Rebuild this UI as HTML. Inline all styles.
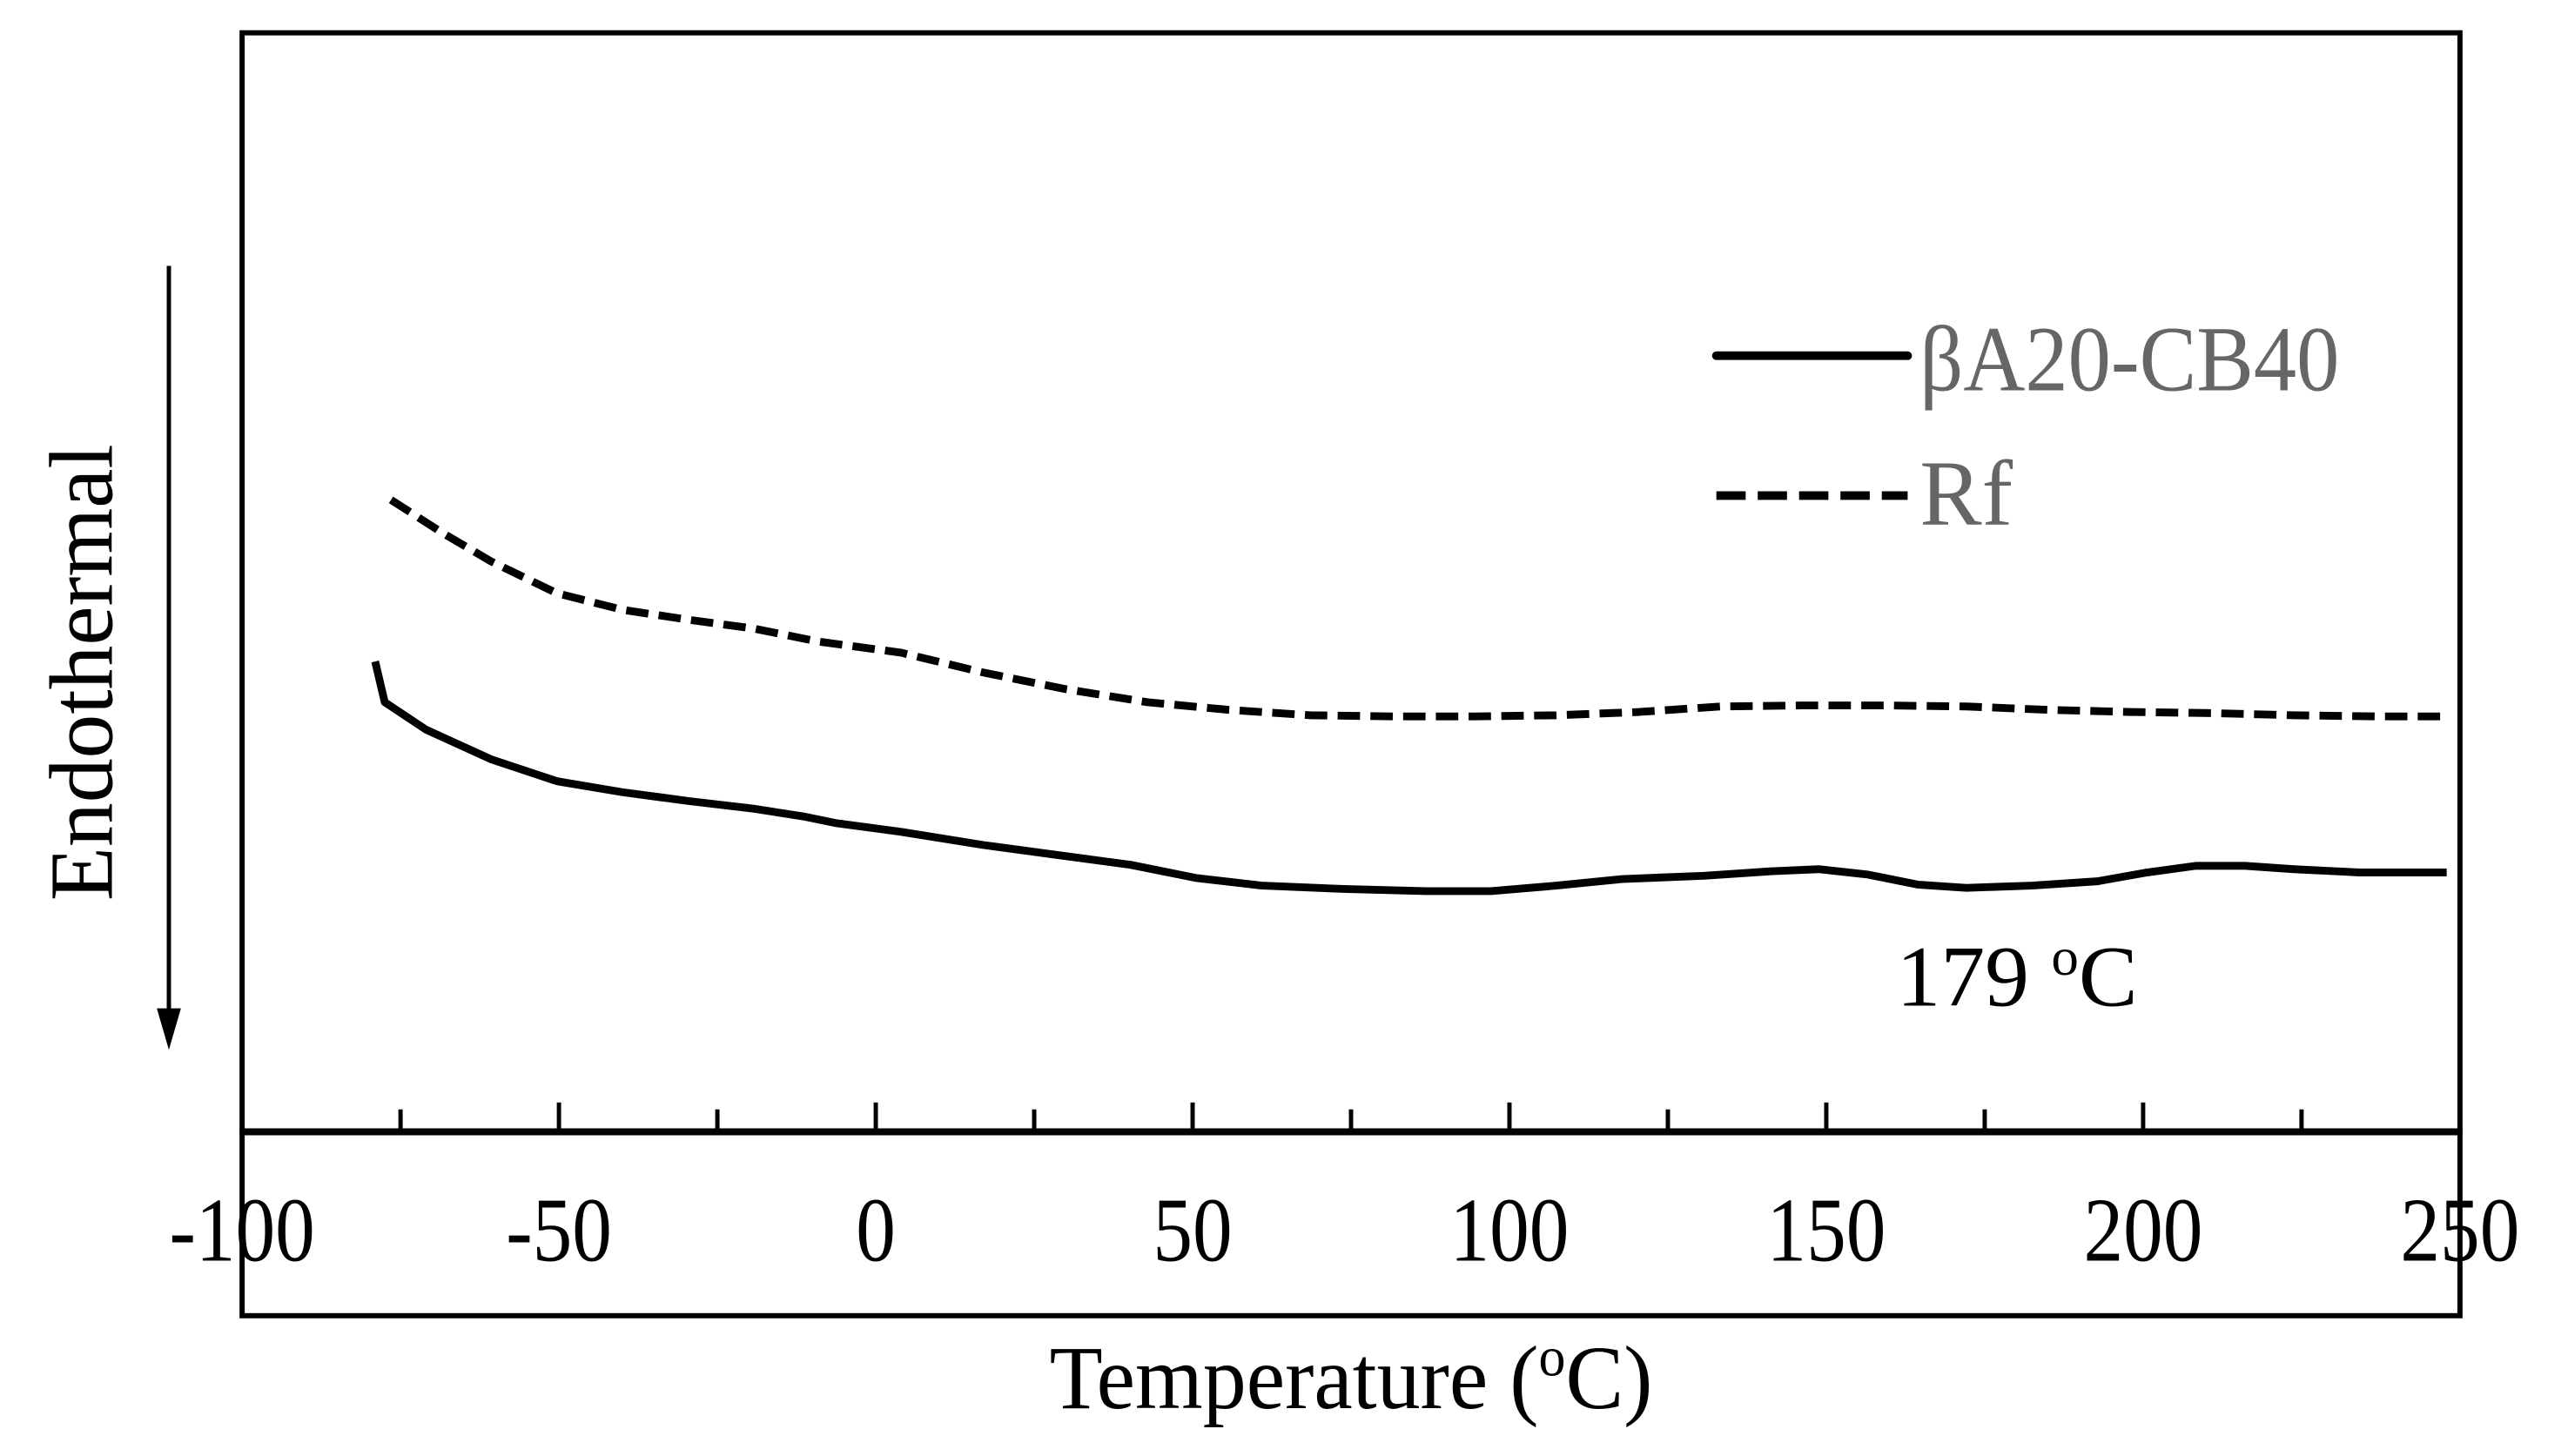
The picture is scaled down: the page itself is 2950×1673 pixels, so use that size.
<!DOCTYPE html>
<html><head><meta charset="utf-8"><style>
html,body{margin:0;padding:0;background:#fff;}
svg{display:block;}
text{font-family:"Liberation Serif",serif;}
</style></head><body>
<svg id="chart" width="2950" height="1673" viewBox="0 0 2950 1673" xmlns="http://www.w3.org/2000/svg">
<g transform="scale(0.9898,0.992)">
<rect x="281" y="38" width="2574" height="1486" fill="none" stroke="#000" stroke-width="6"/>
<line x1="278" y1="1311" x2="2858" y2="1311" stroke="#000" stroke-width="8"/>
<g id="ticks"></g>
<g id="series"></g>
<text x="1568" y="1631" font-size="105" text-anchor="middle" textLength="700" lengthAdjust="spacingAndGlyphs">Temperature (<tspan font-size="65" dy="-38">o</tspan><tspan dy="38">C)</tspan></text>
<text transform="translate(130,779) rotate(-90)" font-size="105" text-anchor="middle" textLength="529" lengthAdjust="spacingAndGlyphs">Endothermal</text>
<g>
<line x1="196" y1="308" x2="196" y2="1180" stroke="#000" stroke-width="5"/>
<polygon points="182,1168 210,1168 196,1216" fill="#000"/>
</g>
<g>
<line x1="1992" y1="412" x2="2214" y2="412" stroke="#000" stroke-width="10" stroke-linecap="round"/>
<text x="2228" y="452" font-size="108" fill="#666" textLength="487" lengthAdjust="spacingAndGlyphs">βA20-CB40</text>
<line x1="1992" y1="574" x2="2214" y2="574" stroke="#000" stroke-width="10" stroke-dasharray="34,14"/>
<text x="2228" y="608" font-size="108" fill="#666">Rf</text>
</g>
<text x="2201" y="1165" font-size="100" textLength="280" lengthAdjust="spacingAndGlyphs">179 <tspan font-size="62" dy="-36">o</tspan><tspan dy="36">C</tspan></text>
</g>
</svg>
<script>
const tickValues = [-100,-75,-50,-25,0,25,50,75,100,125,150,175,200,225,250];
const tickLabels = ["-100","-50","0","50","100","150","200","250"];
const labelValues = [-100,-50,0,50,100,150,200,250];
const solidT = [-79.0,-77.5,-71.0,-60.7,-50.3,-40.0,-29.6,-19.3,-11.5,-6.4,4.0,16.9,29.8,40.2,50.5,60.9,73.8,86.8,97.1,107.4,117.8,130.7,141.1,148.8,156.6,164.4,172.1,182.5,192.8,200.6,208.3,216.1,223.8,234.2,247.9];
const solidV = [42.8,39.1,36.6,33.9,31.9,30.9,30.1,29.4,28.7,28.1,27.3,26.1,25.1,24.3,23.1,22.4,22.1,21.9,21.9,22.4,23.0,23.3,23.7,23.9,23.4,22.5,22.2,22.4,22.8,23.6,24.2,24.2,23.9,23.6,23.6];
const dashT = [-76.5,-68.4,-60.7,-50.3,-40.0,-29.6,-19.3,-9.0,4.0,16.9,29.8,42.8,55.7,68.6,81.6,94.5,107.4,120.4,133.3,146.2,159.2,172.1,185.0,198.0,210.9,223.8,236.8,247.9];
const dashV = [57.5,54.5,51.9,49.0,47.5,46.6,45.8,44.6,43.6,41.8,40.3,39.1,38.4,37.9,37.8,37.8,37.9,38.2,38.7,38.8,38.8,38.7,38.4,38.2,38.1,37.9,37.8,37.8];

const NS = "http://www.w3.org/2000/svg";
function xs(t){ return 281 + (t + 100) * (2574 / 350); }
function ys(v){ return 1311 - v * (1273 / 100); }

const tg = document.getElementById('ticks');
tickValues.forEach(function(t, i){
  if (t === -100 || t === 250) return;
  const major = (t % 50 === 0);
  const l = document.createElementNS(NS, 'line');
  l.setAttribute('x1', xs(t)); l.setAttribute('x2', xs(t));
  l.setAttribute('y1', 1311); l.setAttribute('y2', 1311 - (major ? 34 : 26));
  l.setAttribute('stroke', '#000'); l.setAttribute('stroke-width', 5);
  
  
  tg.appendChild(l);
});
labelValues.forEach(function(t, i){
  const tx = document.createElementNS(NS, 'text');
  tx.setAttribute('x', xs(t)); tx.setAttribute('y', 1460);
  tx.setAttribute('font-size', 106);
  tx.setAttribute('text-anchor', 'middle');
  tx.setAttribute('transform', 'translate(' + xs(t) + ',0) scale(0.87,1) translate(' + (-xs(t)) + ',0)');
  tx.textContent = tickLabels[i];
  
  
  tg.appendChild(tx);
});

const sg = document.getElementById('series');
function drawLine(T, V, dashed, name){
  const pts = T.map(function(t, i){ return xs(t).toFixed(1) + ',' + ys(V[i]).toFixed(1); }).join(' ');
  const p = document.createElementNS(NS, 'polyline');
  p.setAttribute('points', pts);
  p.setAttribute('fill', 'none');
  p.setAttribute('stroke', '#000');
  p.setAttribute('stroke-width', 9);
  p.setAttribute('stroke-linejoin', 'round');
  if (dashed) p.setAttribute('stroke-dasharray', '26,12');
  
  
  sg.appendChild(p);
}
drawLine(dashT, dashV, true, 'rf-dashed-line');
drawLine(solidT, solidV, false, 'ba20-cb40-solid-line');
</script>
</body></html>
